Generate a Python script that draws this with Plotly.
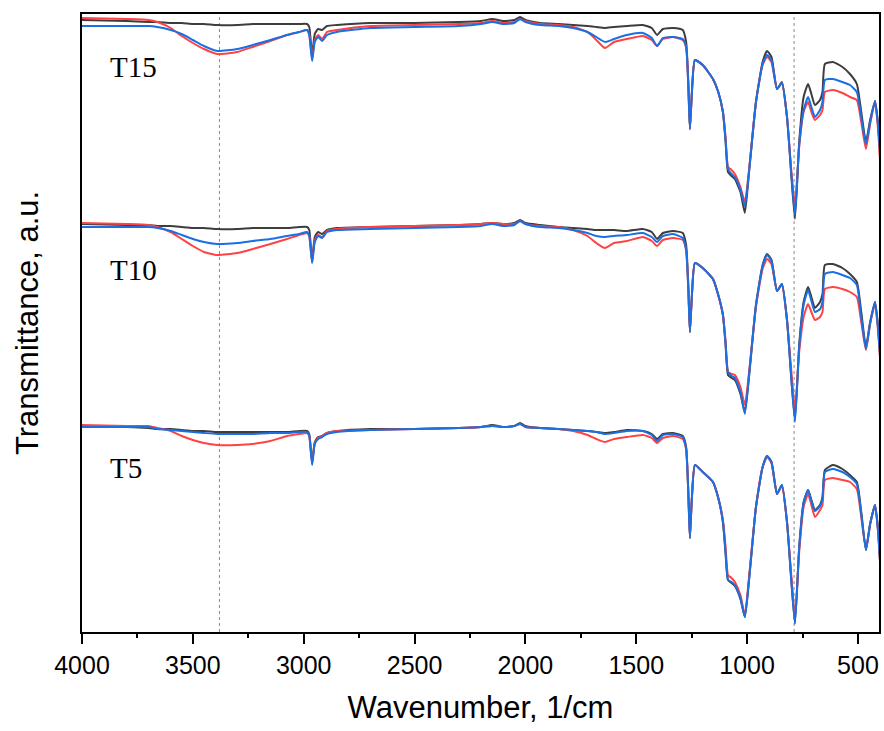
import plotly.graph_objects as go

# Wavenumber grid (1/cm)
wavenumber = [4000, 3800, 3700, 3660, 3600, 3550, 3500, 3450, 3390, 3300,
              3230, 3150, 3075, 3020, 2985, 2975, 2962, 2950, 2935, 2917,
              2895, 2850, 2700, 2500, 2300, 2200, 2150, 2100, 2050, 2024,
              2000, 1934, 1850, 1785, 1720, 1680, 1641, 1600, 1542, 1470,
              1430, 1406, 1380, 1334, 1290, 1275, 1265, 1258, 1250, 1235,
              1200, 1154, 1130, 1109, 1097, 1086, 1070, 1055, 1030, 1010,
              990, 960, 930, 910, 890, 865, 843, 820, 800, 784,
              765, 745, 725, 710, 694, 671, 660, 649, 613, 570,
              536, 505, 485, 464, 445, 423, 410, 400]

# Transmittance (a.u., stacked) - T15
t15_black = [612, 611, 610, 610, 609, 609, 608, 608, 607, 607,
             608, 608, 608, 608, 608, 605, 577, 598, 603, 602,
             606, 607, 609, 609, 610, 611, 613, 611, 612, 615,
             612, 609, 608, 607, 606, 605, 604, 605, 606, 607,
             604, 597, 603, 604, 602, 590, 550, 503, 535, 572,
             567, 553, 540, 520, 490, 460, 456, 453, 440, 419,
             463, 530, 570, 581, 575, 543, 550, 515, 455, 413,
             490, 535, 548, 538, 527, 532, 540, 568, 570, 565,
             558, 548, 520, 490, 512, 531, 510, 475]
t15_red = [614, 613, 612, 610, 604, 596, 589, 583, 578, 580,
           585, 591, 597, 600, 602, 598, 573, 592, 597, 593,
           600, 602, 606, 607, 608, 609, 611, 609, 610, 613,
           611, 608, 607, 605, 600, 592, 584, 590, 593, 596,
           592, 586, 593, 595, 592, 585, 545, 503, 535, 572,
           567, 553, 540, 520, 495, 465, 462, 458, 445, 430,
           465, 530, 567, 575, 570, 543, 549, 515, 460, 427,
           485, 520, 530, 520, 512, 517, 522, 540, 542, 539,
           535, 532, 510, 483, 508, 530, 505, 470]
t15_blue = [606, 606, 606, 605, 602, 598, 592, 586, 581, 583,
            587, 592, 597, 600, 602, 597, 571, 590, 595, 591,
            597, 600, 604, 605, 606, 608, 610, 608, 609, 613,
            610, 607, 606, 604, 600, 595, 590, 593, 597, 599,
            594, 586, 594, 595, 593, 585, 545, 503, 535, 572,
            567, 553, 540, 520, 492, 463, 458, 455, 442, 426,
            463, 530, 568, 577, 572, 543, 549, 515, 457, 417,
            487, 522, 535, 525, 515, 522, 530, 552, 553, 550,
            547, 540, 515, 488, 510, 531, 508, 480]

# T10
t10_black = [408, 407, 407, 406, 406, 405, 404, 404, 403, 403,
             404, 404, 404, 405, 405, 402, 372, 395, 400, 398,
             402, 404, 405, 406, 407, 408, 409, 408, 409, 412,
             409, 407, 405, 404, 403, 402, 402, 402, 401, 403,
             400, 393, 399, 401, 399, 387, 347, 300, 332, 369,
             364, 353, 337, 317, 287, 257, 254, 252, 238, 220,
             258, 327, 367, 378, 372, 341, 348, 312, 252, 213,
             287, 330, 345, 335, 324, 330, 338, 367, 368, 364,
             358, 350, 320, 285, 310, 330, 308, 275]
t10_red = [409, 408, 407, 405, 400, 393, 386, 380, 377, 379,
           383, 388, 393, 397, 399, 396, 370, 392, 397, 395,
           401, 403, 405, 406, 407, 408, 409, 408, 408, 411,
           408, 406, 405, 402, 396, 389, 384, 389, 391, 395,
           391, 386, 392, 394, 392, 382, 342, 300, 332, 369,
           364, 353, 337, 317, 290, 260, 258, 257, 245, 227,
           262, 325, 363, 373, 368, 341, 347, 312, 260, 223,
           280, 315, 328, 320, 312, 315, 320, 343, 345, 343,
           340, 335, 310, 282, 308, 328, 303, 273]
t10_blue = [405, 405, 405, 404, 401, 397, 393, 390, 388, 389,
            391, 393, 396, 398, 400, 396, 369, 390, 396, 394,
            400, 402, 403, 404, 405, 406, 408, 406, 407, 411,
            408, 405, 404, 402, 399, 396, 395, 396, 397, 399,
            395, 390, 396, 398, 394, 382, 342, 300, 332, 369,
            364, 353, 337, 317, 289, 260, 256, 254, 240, 218,
            260, 327, 366, 377, 371, 341, 348, 312, 252, 210,
            285, 327, 342, 331, 320, 323, 330, 358, 360, 357,
            354, 347, 315, 283, 309, 330, 305, 277]

# T5
t5_black = [205, 205, 204, 203, 203, 202, 201, 201, 200, 200,
            200, 200, 200, 201, 201, 198, 170, 190, 195, 196,
            199, 201, 203, 203, 204, 205, 207, 205, 206, 209,
            206, 204, 203, 202, 201, 200, 199, 200, 202, 201,
            198, 193, 198, 199, 196, 185, 140, 94, 130, 167,
            160, 150, 134, 110, 78, 52, 49, 46, 33, 15,
            55, 125, 165, 176, 170, 138, 147, 110, 50, 9,
            85, 130, 142, 132, 122, 127, 135, 162, 167, 163,
            157, 150, 120, 82, 108, 127, 105, 70]
t5_red = [207, 206, 206, 204, 201, 196, 192, 189, 187, 187,
          188, 191, 196, 198, 199, 196, 169, 189, 194, 196,
          199, 201, 202, 203, 204, 205, 206, 205, 206, 208,
          205, 204, 203, 201, 197, 193, 190, 193, 195, 197,
          194, 189, 194, 196, 193, 183, 138, 94, 130, 167,
          160, 150, 134, 112, 85, 57, 54, 50, 37, 17,
          58, 125, 165, 175, 169, 138, 146, 110, 55, 15,
          80, 125, 138, 127, 115, 122, 127, 152, 154, 152,
          150, 143, 115, 83, 108, 127, 102, 68]
t5_blue = [205, 205, 205, 203, 202, 201, 200, 199, 198, 198,
           198, 199, 199, 200, 200, 196, 167, 188, 193, 195,
           198, 200, 202, 203, 204, 205, 206, 205, 206, 208,
           205, 204, 203, 202, 201, 200, 198, 199, 201, 201,
           197, 191, 197, 198, 195, 183, 138, 94, 130, 167,
           160, 150, 134, 110, 80, 52, 50, 47, 34, 15,
           55, 125, 165, 176, 170, 138, 147, 110, 50, 8,
           84, 129, 142, 131, 121, 126, 133, 160, 163, 160,
           155, 148, 118, 82, 108, 127, 103, 70]

group_labels = ["T15", "T10", "T5"]
group_label_y = [565, 362, 164]
marker_lines = [3380, 788]

colors = {"black": "#3d3d3d", "red": "#ff4242", "blue": "#1a6fe3"}
groups = [
    (t15_black, t15_red, t15_blue),
    (t10_black, t10_red, t10_blue),
    (t5_black, t5_red, t5_blue),
]

fig = go.Figure()
for name, (k, r, b) in zip(group_labels, groups):
    for series, col in ((k, "black"), (r, "red"), (b, "blue")):
        fig.add_trace(go.Scatter(
            x=wavenumber, y=series, mode="lines",
            line=dict(color=colors[col], width=2, shape="spline", smoothing=0.5),
            name=f"{name} {col}", showlegend=False,
        ))

for xv in marker_lines:
    fig.add_shape(type="line", xref="x", yref="paper", x0=xv, x1=xv, y0=0, y1=1,
                  line=dict(color="#8a8a8a", width=1, dash="3px,3px"), layer="below")

for lab, yv in zip(group_labels, group_label_y):
    fig.add_annotation(x=3885, y=yv, text=lab, showarrow=False, xanchor="left",
                       yanchor="middle",
                       font=dict(family="Liberation Serif", size=29, color="black"))

# y-axis title (rotated)
fig.add_annotation(xref="paper", yref="paper", x=-0.069, y=0.5,
                   text="Transmittance, a.u.", textangle=-90, showarrow=False,
                   xanchor="center", yanchor="middle",
                   font=dict(family="Liberation Sans", size=31, color="black"))

fig.update_layout(
    width=884, height=731,
    margin=dict(l=82, r=5, t=14, b=99),
    plot_bgcolor="white", paper_bgcolor="white",
    font=dict(family="Liberation Sans", color="black"),
)
fig.update_xaxes(
    range=[4000, 405], showgrid=False, zeroline=False, automargin=False,
    showline=True, linecolor="black", linewidth=2, mirror=True,
    ticks="outside", ticklen=10, tickwidth=2, tickcolor="black",
    tick0=0, dtick=500, tickfont=dict(size=25, family="Liberation Sans"),
    minor=dict(ticks="outside", ticklen=4, tickwidth=2, tickcolor="black", dtick=250),
    title=dict(text="Wavenumber, 1/cm", font=dict(size=31, family="Liberation Sans"),
               standoff=18),
)
fig.update_yaxes(
    range=[0, 618], showgrid=False, zeroline=False, automargin=False,
    showline=True, linecolor="black", linewidth=2, mirror=True,
    showticklabels=False, ticks="",
)

fig.write_html(
    "out.html",
    config={"displayModeBar": False},
    post_script="document.body.style.margin='0';document.body.style.overflow='hidden';",
)
